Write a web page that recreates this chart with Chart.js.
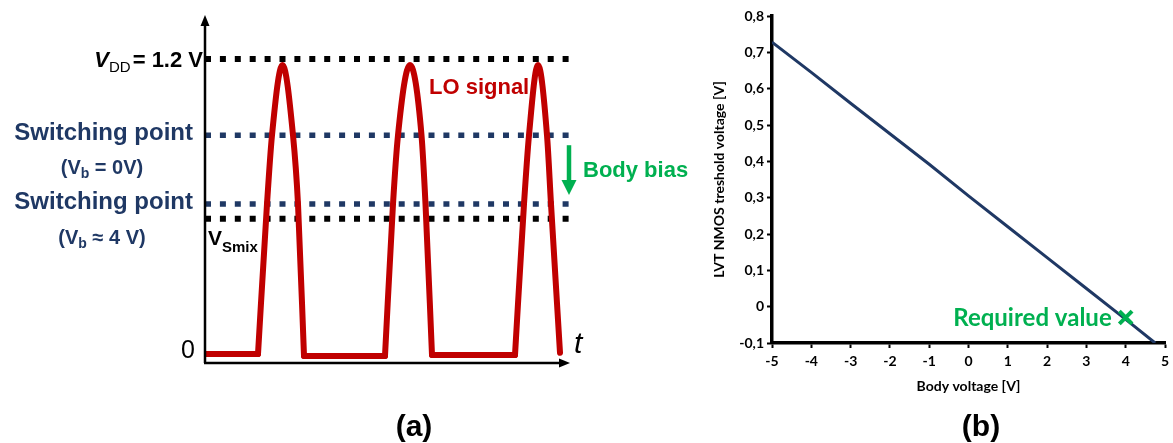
<!DOCTYPE html>
<html>
<head>
<meta charset="utf-8">
<script src="https://cdn.jsdelivr.net/npm/chart.js@4.4.1/dist/chart.umd.min.js"></script>
<style>
  html, body { margin: 0; padding: 0; background: #fff; }
  #wrap { position: relative; width: 1173px; height: 443px; overflow: hidden; }
  canvas { position: absolute; top: 0; }
  #loChart { left: 0; }
  #vthChart { left: 690px; }
</style>
</head>
<body>
<div id="wrap">
  <canvas id="loChart" width="700" height="443"></canvas>
  <canvas id="vthChart" width="488" height="443"></canvas>
</div>
<script>
// (a) LO waveform: time in arbitrary units, level in volts
const loTime = [0, 53, 62, 67, 77.5, 88, 93, 99, 180, 188, 193, 205, 216.5, 220.5, 227, 310, 319, 324, 333, 342, 346, 355]
const loLevel = [0, 0, 0.61, 0.89, 1.176, 0.89, 0.61, -0.008, -0.008, 0.61, 0.89, 1.176, 0.89, 0.61, -0.004, -0.004, 0.61, 0.89, 1.176, 0.89, 0.61, 0.005]
// index ranges of the pulses (smooth) and of the low parts (straight)
const loPulses = [[1, 7], [8, 14], [15, 21]]
const loFlats = [[0, 1], [7, 8], [14, 15]]
const vdd = 1.2
const switchVb0 = 0.89
const switchVb4 = 0.61
const vsmix = 0.55
const levelSpan = [0, 364]

// (b) threshold voltage vs body voltage
const bodyVoltage = [-5, -4, -3, -2, -1, 0, 1, 2, 3, 4, 4.75]
const thresholdVoltage = [0.728, 0.645, 0.56, 0.476, 0.392, 0.305, 0.22, 0.135, 0.05, -0.035, -0.1]
const requiredVb = [4]
const requiredVth = [-0.03]
const xTicks = [-5, 5, 1]      // min, max, step
const yTicks = [-0.1, 0.8, 0.1]

const SANS = "'Liberation Sans', Arial, sans-serif"
const CAL = "Lato, 'Open Sans', sans-serif"
const NAVY = "#1F3864"
const RED = "#C00000"
const GREEN = "#00B050"

function drawRuns(ctx, runs, x, baseline, align) {
    let total = 0
    runs.forEach(r => {
        ctx.font = r.font
        r.w = ctx.measureText(r.text).width + (r.gap || 0)
        total += r.w
    })
    let cx = align === "right" ? x - total : align === "center" ? x - total / 2 : x
    ctx.textAlign = "left"
    ctx.textBaseline = "alphabetic"
    runs.forEach(r => {
        ctx.font = r.font
        ctx.fillText(r.text, cx + (r.gap || 0), baseline + (r.dy || 0))
        cx += r.w
    })
}

function levelLine(level, color, width) {
    return {
        data: levelSpan.map(t => ({ x: t, y: level })),
        borderColor: color,
        borderWidth: width,
        borderDash: [6, 8.9],
        pointRadius: 0,
        tension: 0,
    }
}

function loPart([from, to], smooth) {
    const pts = []
    for (let i = from; i <= to; i++) pts.push({ x: loTime[i], y: loLevel[i] })
    return {
        data: pts,
        borderColor: RED,
        borderWidth: 6,
        pointRadius: 0,
        borderCapStyle: "round",
        borderJoinStyle: "round",
        cubicInterpolationMode: smooth ? "monotone" : "default",
        tension: 0,
    }
}

// axes, arrows and labels of panel (a)
const loDecor = {
    id: "loDecor",
    afterDatasetsDraw(chart) {
        const { ctx, scales: { x, y } } = chart
        const x0 = x.getPixelForValue(0)
        const yBottom = y.getPixelForValue(y.min)
        const yTop = y.getPixelForValue(y.max)
        const xTip = x.getPixelForValue(365)
        ctx.save()
        ctx.strokeStyle = "#000"
        ctx.fillStyle = "#000"
        ctx.lineWidth = 2.5
        ctx.beginPath()
        ctx.moveTo(x0, yBottom)
        ctx.lineTo(x0, yTop + 8)
        ctx.moveTo(x0 - 1, yBottom)
        ctx.lineTo(xTip - 8, yBottom)
        ctx.stroke()
        ctx.beginPath()
        ctx.moveTo(x0, yTop)
        ctx.lineTo(x0 - 4.5, yTop + 11)
        ctx.lineTo(x0 + 4.5, yTop + 11)
        ctx.closePath()
        ctx.fill()
        ctx.beginPath()
        ctx.moveTo(xTip, yBottom)
        ctx.lineTo(xTip - 11, yBottom - 4.5)
        ctx.lineTo(xTip - 11, yBottom + 4.5)
        ctx.closePath()
        ctx.fill()

        // body bias arrow
        const ax = x.getPixelForValue(364)
        const aTop = y.getPixelForValue(switchVb0) + 10
        const aTip = y.getPixelForValue(switchVb4) - 9
        ctx.strokeStyle = GREEN
        ctx.fillStyle = GREEN
        ctx.lineWidth = 4.5
        ctx.beginPath()
        ctx.moveTo(ax, aTop)
        ctx.lineTo(ax, aTip - 12)
        ctx.stroke()
        ctx.beginPath()
        ctx.moveTo(ax, aTip)
        ctx.lineTo(ax - 7.5, aTip - 15)
        ctx.lineTo(ax + 7.5, aTip - 15)
        ctx.closePath()
        ctx.fill()

        // labels
        const pVdd = y.getPixelForValue(vdd)
        const pS0 = y.getPixelForValue(switchVb0)
        const pS4 = y.getPixelForValue(switchVb4)
        const pMix = y.getPixelForValue(vsmix)

        ctx.fillStyle = "#000"
        drawRuns(ctx, [
            { text: "V", font: `italic bold 22px ${SANS}` },
            { text: "DD", font: `15px ${SANS}`, dy: 5 },
            { text: "= 1.2 V", font: `bold 22px ${SANS}`, gap: 2 },
        ], x0 - 2, pVdd + 8, "right")

        ctx.fillStyle = NAVY
        ctx.font = `bold 24px ${SANS}`
        ctx.textAlign = "right"
        ctx.fillText("Switching point", 193, pS0 + 5)
        ctx.fillText("Switching point", 193, pS4 + 5)
        drawRuns(ctx, [
            { text: "(V", font: `bold 20px ${SANS}` },
            { text: "b", font: `bold 14px ${SANS}`, dy: 4 },
            { text: " = 0V)", font: `bold 20px ${SANS}` },
        ], 102, pS0 + 39, "center")
        drawRuns(ctx, [
            { text: "(V", font: `bold 20px ${SANS}` },
            { text: "b", font: `bold 14px ${SANS}`, dy: 4 },
            { text: " \u2248 4 V)", font: `bold 20px ${SANS}` },
        ], 102, pS4 + 40, "center")

        ctx.fillStyle = "#000"
        drawRuns(ctx, [
            { text: "V", font: `bold 21px ${SANS}` },
            { text: "Smix", font: `bold 15px ${SANS}`, dy: 7 },
        ], x0 + 3, pMix + 26, "left")

        ctx.font = `25px ${SANS}`
        ctx.textAlign = "right"
        ctx.fillText("0", x0 - 10, y.getPixelForValue(0) + 4)
        ctx.font = `italic 30px ${SANS}`
        ctx.textAlign = "left"
        ctx.fillText("t", xTip + 4, y.getPixelForValue(0) - 1)

        ctx.fillStyle = RED
        ctx.font = `bold 22px ${SANS}`
        ctx.fillText("LO signal", 429, 94)

        ctx.fillStyle = GREEN
        ctx.fillText("Body bias", ax + 14, 177)

        ctx.fillStyle = "#000"
        ctx.font = `bold 30px ${SANS}`
        ctx.textAlign = "center"
        ctx.fillText("(a)", 414, 436)
        ctx.restore()
    },
}

new Chart(document.getElementById("loChart"), {
    type: "line",
    data: {
        datasets: [
            ...loPulses.map(r => loPart(r, true)),
            ...loFlats.map(r => loPart(r, false)),
            levelLine(vdd, "#000", 6),
            levelLine(switchVb0, NAVY, 5.5),
            levelLine(switchVb4, NAVY, 5.5),
            levelLine(vsmix, "#000", 6),
        ],
    },
    options: {
        responsive: false,
        animation: false,
        layout: { padding: { left: 205, right: 125, top: 15, bottom: 80 } },
        plugins: { legend: { display: false }, tooltip: { enabled: false } },
        scales: {
            x: { type: "linear", min: 0, max: 370, display: false },
            y: { min: -0.0366, max: 1.379, display: false },
        },
    },
    plugins: [loDecor],
})

// panel (b) labels
const vthDecor = {
    id: "vthDecor",
    afterDraw(chart) {
        const { ctx, scales: { x, y } } = chart
        ctx.save()
        ctx.fillStyle = GREEN
        ctx.font = `bold 24px ${CAL}`
        ctx.textAlign = "right"
        ctx.textBaseline = "alphabetic"
        ctx.fillText("Required value", x.getPixelForValue(requiredVb[0]) - 14, y.getPixelForValue(requiredVth[0]) + 8)
        ctx.fillStyle = "#000"
        ctx.font = `bold 30px ${SANS}`
        ctx.textAlign = "center"
        ctx.fillText("(b)", 291, 436)
        ctx.restore()
    },
}

const tickFont = { family: CAL, weight: "bold", size: 14 }
const axisGrid = { display: true, drawOnChartArea: false, drawTicks: true, tickLength: 5, tickWidth: 2, color: "#000" }
const axisBorder = { display: true, color: "#000", width: 3.5 }

new Chart(document.getElementById("vthChart"), {
    type: "line",
    data: {
        datasets: [
            {
                label: "Required value",
                data: requiredVb.map((v, i) => ({ x: v, y: requiredVth[i] })),
                showLine: false,
                pointStyle: "crossRot",
                pointRadius: 9,
                pointBorderWidth: 4,
                borderColor: GREEN,
                backgroundColor: GREEN,
            },
            {
                label: "LVT NMOS threshold",
                data: bodyVoltage.map((v, i) => ({ x: v, y: thresholdVoltage[i] })),
                borderColor: NAVY,
                borderWidth: 3,
                pointRadius: 0,
                tension: 0,
            },
        ],
    },
    options: {
        responsive: false,
        animation: false,
        layout: { padding: { left: 17, right: 3, top: 16, bottom: 44 } },
        plugins: { legend: { display: false }, tooltip: { enabled: false } },
        scales: {
            x: {
                type: "linear",
                min: xTicks[0],
                max: xTicks[1],
                ticks: { stepSize: xTicks[2], color: "#000", font: tickFont, padding: 5, callback: v => String(v) },
                grid: axisGrid,
                border: axisBorder,
                title: { display: true, text: "Body voltage [V]", color: "#000", font: tickFont, padding: { top: 4, bottom: 4 } },
                afterFit(s) { s.height = 56 },
            },
            y: {
                min: yTicks[0],
                max: yTicks[1],
                ticks: {
                    stepSize: yTicks[2],
                    color: "#000",
                    font: tickFont,
                    padding: 3,
                    callback: v => Math.abs(v) < 1e-9 ? "0" : v.toFixed(1).replace(".", ","),
                },
                grid: axisGrid,
                border: axisBorder,
                title: { display: true, text: "LVT NMOS treshold voltage [V]", color: "#000", font: tickFont, padding: { top: 4, bottom: 4 } },
                afterFit(s) { s.width = 65 },
            },
        },
    },
    plugins: [vthDecor],
})
</script>
</body>
</html>
